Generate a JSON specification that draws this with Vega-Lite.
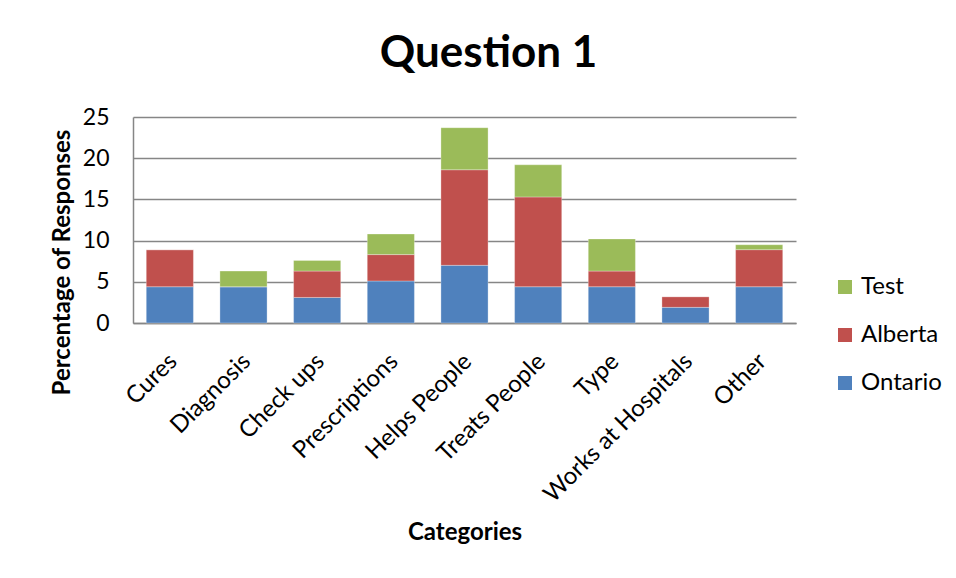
{
  "$schema": "https://vega.github.io/schema/vega-lite/v6.json",
  "autosize": {"type": "none"},
  "padding": {"left": 133, "top": 117, "right": 160, "bottom": 255},
  "width": 663,
  "height": 206,
  "background": "white",
  "config": {
    "font": "Lato",
    "view": {"stroke": null}
  },
  "title": {
    "text": "Question 1",
    "font": "Lato",
    "fontSize": 44,
    "fontWeight": "bold",
    "color": "black",
    "anchor": "middle",
    "baseline": "alphabetic",
    "offset": -5,
    "dx": 24
  },
  "data": {
    "values": [
      {"category": "Cures", "series": "Ontario", "value": 4.4},
      {"category": "Cures", "series": "Alberta", "value": 4.5},
      {"category": "Cures", "series": "Test", "value": 0},
      {"category": "Diagnosis", "series": "Ontario", "value": 4.4},
      {"category": "Diagnosis", "series": "Alberta", "value": 0},
      {"category": "Diagnosis", "series": "Test", "value": 1.9},
      {"category": "Check ups", "series": "Ontario", "value": 3.1},
      {"category": "Check ups", "series": "Alberta", "value": 3.2},
      {"category": "Check ups", "series": "Test", "value": 1.3},
      {"category": "Prescriptions", "series": "Ontario", "value": 5.1},
      {"category": "Prescriptions", "series": "Alberta", "value": 3.2},
      {"category": "Prescriptions", "series": "Test", "value": 2.5},
      {"category": "Helps People", "series": "Ontario", "value": 7.0},
      {"category": "Helps People", "series": "Alberta", "value": 11.6},
      {"category": "Helps People", "series": "Test", "value": 5.1},
      {"category": "Treats People", "series": "Ontario", "value": 4.4},
      {"category": "Treats People", "series": "Alberta", "value": 10.9},
      {"category": "Treats People", "series": "Test", "value": 3.9},
      {"category": "Type", "series": "Ontario", "value": 4.4},
      {"category": "Type", "series": "Alberta", "value": 1.9},
      {"category": "Type", "series": "Test", "value": 3.9},
      {"category": "Works at Hospitals", "series": "Ontario", "value": 1.9},
      {"category": "Works at Hospitals", "series": "Alberta", "value": 1.3},
      {"category": "Works at Hospitals", "series": "Test", "value": 0},
      {"category": "Other", "series": "Ontario", "value": 4.4},
      {"category": "Other", "series": "Alberta", "value": 4.5},
      {"category": "Other", "series": "Test", "value": 0.6}
    ]
  },
  "transform": [
    {"calculate": "indexof(['Ontario', 'Alberta', 'Test'], datum.series)", "as": "stackOrder"}
  ],
  "mark": {"type": "bar", "stroke": "white", "strokeWidth": 0.5, "strokeOpacity": 0.6},
  "encoding": {
    "x": {
      "field": "category",
      "type": "nominal",
      "sort": null,
      "scale": {"paddingInner": 0.36, "paddingOuter": 0.18},
      "axis": {
        "title": "Categories",
        "titleFont": "Lato",
        "titleFontSize": 24,
        "titleFontWeight": "bold",
        "titleColor": "black",
        "titleY": 209,
        "titleBaseline": "middle",
        "labelAngle": -45,
        "labelAlign": "right",
        "labelBaseline": "top",
        "labelFontSize": 24,
        "labelColor": "black",
        "labelPadding": 26,
        "labelOffset": -5,
        "labelLimit": 400,
        "ticks": false,
        "domainColor": "#868686",
        "domainWidth": 1.5
      }
    },
    "y": {
      "field": "value",
      "type": "quantitative",
      "stack": "zero",
      "scale": {"domain": [0, 25], "nice": false},
      "axis": {
        "title": "Percentage of Responses",
        "titleFont": "Lato",
        "titleFontSize": 24,
        "titleFontWeight": "bold",
        "titleColor": "black",
        "titleX": -71,
        "titleY": 145,
        "titleAngle": -90,
        "titleAlign": "center",
        "titleBaseline": "middle",
        "values": [0, 5, 10, 15, 20, 25],
        "labelFontSize": 23,
        "labelColor": "black",
        "labelPadding": 24,
        "ticks": false,
        "domainColor": "#868686",
        "domainWidth": 1.5,
        "gridColor": "#868686",
        "gridWidth": 1.5
      }
    },
    "color": {
      "field": "series",
      "type": "nominal",
      "sort": ["Test", "Alberta", "Ontario"],
      "scale": {
        "domain": ["Test", "Alberta", "Ontario"],
        "range": ["#9BBB59", "#C0504D", "#4F81BD"]
      },
      "legend": {
        "title": null,
        "orient": "none",
        "legendX": 700,
        "legendY": 158,
        "symbolType": "square",
        "symbolSize": 196,
        "symbolStrokeWidth": 0,
        "labelFontSize": 24,
        "labelColor": "black",
        "labelOffset": 4,
        "rowPadding": 24
      }
    },
    "order": {"field": "stackOrder", "type": "quantitative"}
  }
}
